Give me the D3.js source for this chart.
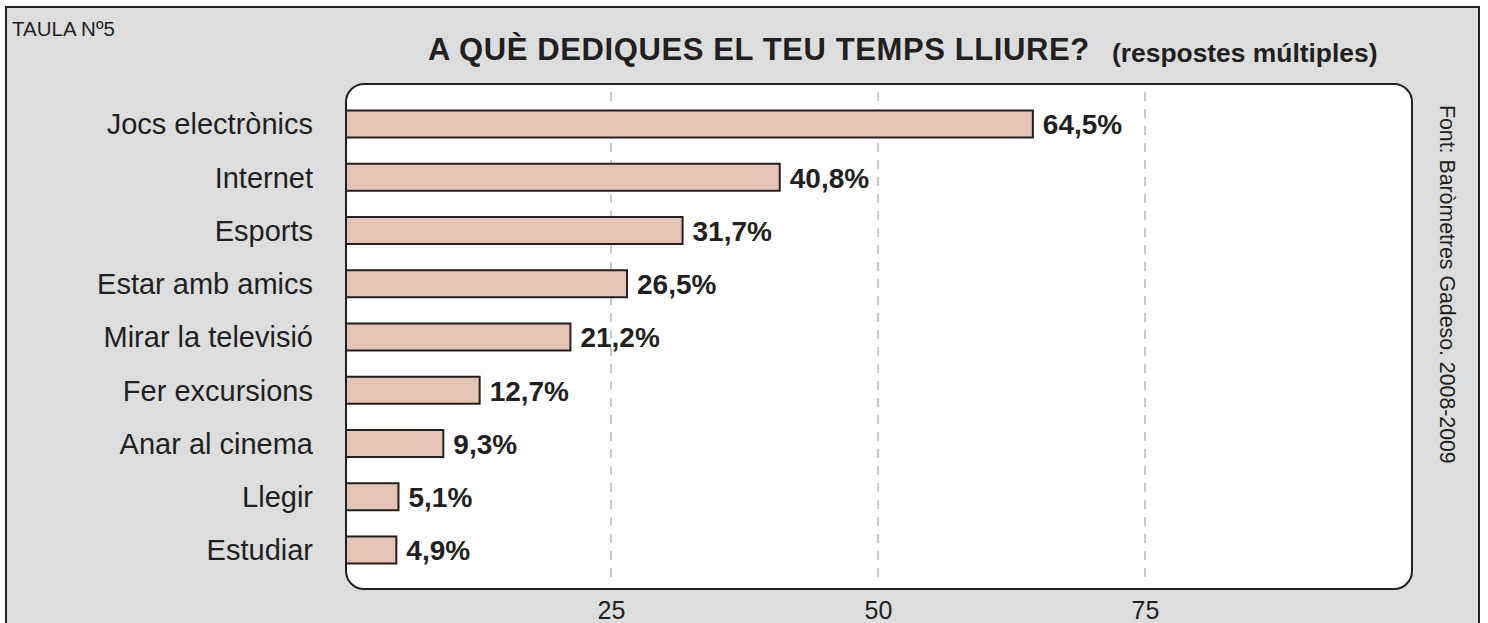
<!DOCTYPE html>
<html>
<head>
<meta charset="utf-8">
<script src="https://cdn.jsdelivr.net/npm/d3@7"></script>
<style>
  html, body { margin: 0; padding: 0; background: #ffffff; }
  svg { display: block; font-family: "Liberation Sans", Arial, Helvetica, sans-serif; }
</style>
</head>
<body>
<svg id="chart" width="1488" height="623"></svg>
<script>
const categories = ["Jocs electrònics", "Internet", "Esports", "Estar amb amics", "Mirar la televisió", "Fer excursions", "Anar al cinema", "Llegir", "Estudiar"];
const values = [64.5, 40.8, 31.7, 26.5, 21.2, 12.7, 9.3, 5.1, 4.9];
const valueLabels = ["64,5%", "40,8%", "31,7%", "26,5%", "21,2%", "12,7%", "9,3%", "5,1%", "4,9%"];
const tickValues = [25, 50, 75];
const tickLabels = ["25", "50", "75"];
const tableLabel = "TAULA Nº5";
const titleText = "A QUÈ DEDIQUES EL TEU TEMPS LLIURE?";
const subtitleText = "(respostes múltiples)";
const sourceText = "Font: Baròmetres Gadeso. 2008-2009";

const ink = "#231f20";
const svg = d3.select("#chart");

// outer panel
svg.append("rect")
  .attr("x", 6).attr("y", 7).attr("width", 1473).attr("height", 630)
  .attr("fill", "#dcdddf").attr("stroke", ink).attr("stroke-width", 2);

// plot area
const plot = { left: 346, right: 1412, top: 84, bottom: 589 };
svg.append("rect")
  .attr("x", plot.left).attr("y", plot.top)
  .attr("width", plot.right - plot.left).attr("height", plot.bottom - plot.top)
  .attr("rx", 18).attr("ry", 18)
  .attr("fill", "#ffffff").attr("stroke", ink).attr("stroke-width", 2);

const x = d3.scaleLinear().domain([0, 100]).range([344, 1412]);
const y = d3.scaleBand().domain(categories).range([97.37, 576.62]).paddingInner(0.493).paddingOuter(0.2465);

// grid lines
svg.append("g").selectAll("line").data(tickValues).join("line")
  .attr("x1", d => x(d)).attr("x2", d => x(d))
  .attr("y1", 92).attr("y2", 584)
  .attr("stroke", "#c9c9c9").attr("stroke-width", 2)
  .attr("stroke-dasharray", "9,8");

// x axis labels
const axis = d3.axisBottom(x).tickValues(tickValues).tickSize(0).tickPadding(0)
  .tickFormat((d, i) => tickLabels[i]);
const ax = svg.append("g").attr("transform", "translate(0,601)").call(axis);
ax.select(".domain").remove();
ax.selectAll("text").attr("font-size", 25).attr("fill", ink)
  .attr("font-family", "'Liberation Sans', Arial, sans-serif").attr("dy", "0.71em");

// bars
svg.append("g").selectAll("rect").data(values).join("rect")
  .attr("x", x(0) + 2)
  .attr("y", (d, i) => y(categories[i]))
  .attr("width", d => x(d) - x(0) - 2)
  .attr("height", y.bandwidth())
  .attr("fill", "#e4c4b5").attr("stroke", ink).attr("stroke-width", 2);

// value labels
svg.append("g").selectAll("text").data(values).join("text")
  .attr("x", d => x(d) + 10)
  .attr("y", (d, i) => y(categories[i]) + y.bandwidth() / 2)
  .attr("dy", "0.37em")
  .attr("font-size", 28).attr("font-weight", "bold").attr("fill", ink)
  .text((d, i) => valueLabels[i]);

// category labels
svg.append("g").selectAll("text").data(categories).join("text")
  .attr("x", 313)
  .attr("y", d => y(d) + y.bandwidth() / 2)
  .attr("dy", "0.36em")
  .attr("text-anchor", "end")
  .attr("font-size", 29).attr("fill", ink)
  .text(d => d);

// texts
svg.append("text").attr("x", 12).attr("y", 36)
  .attr("font-size", 20.5).attr("fill", ink).text(tableLabel);

svg.append("text").attr("x", 428).attr("y", 60)
  .attr("font-size", 31).attr("font-weight", "bold").attr("fill", ink)
  .attr("letter-spacing", 0.6)
  .text(titleText);

svg.append("text").attr("x", 1112).attr("y", 62)
  .attr("font-size", 26.4).attr("font-weight", "bold").attr("fill", ink)
  .text(subtitleText);

svg.append("text")
  .attr("transform", "translate(1440,105) rotate(90)")
  .attr("font-size", 21.3).attr("fill", ink)
  .text(sourceText);
</script>
</body>
</html>
